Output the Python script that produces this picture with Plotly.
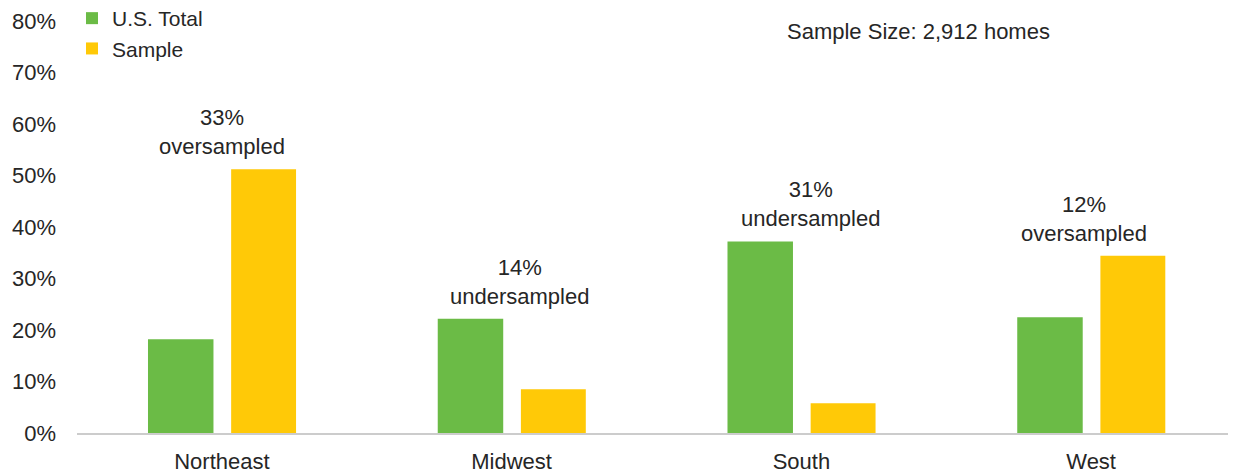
import plotly.graph_objects as go

regions = ["Northeast", "Midwest", "South", "West"]
us_total = [18.2, 22.2, 37.2, 22.5]
sample = [51.2, 8.5, 5.8, 34.4]
notes = ["33%<br>oversampled", "14%<br>undersampled", "31%<br>undersampled", "12%<br>oversampled"]
y_ticks = [0, 10, 20, 30, 40, 50, 60, 70, 80]
y_labels = [f"{v}%" for v in y_ticks]

GREEN = "#6BBB46"
YELLOW = "#FFC907"
TEXT = "#262626"
FONT = "Liberation Sans, Arial, sans-serif"
FS = 22

fig = go.Figure()
fig.add_trace(go.Bar(x=regions, y=us_total, name="U.S. Total", marker_color=GREEN,
                     marker_line_width=0, width=0.226, offset=-0.255))
fig.add_trace(go.Bar(x=regions, y=sample, name="Sample", marker_color=YELLOW,
                     marker_line_width=0, width=0.224, offset=0.032))

xshifts = [0, 8, 9, -7]
for r, a, b, t, xs in zip(regions, us_total, sample, notes, xshifts):
    fig.add_annotation(x=r, y=max(a, b), text=t, showarrow=False, yanchor="bottom",
                       yshift=8, xshift=xs, font=dict(size=FS, color=TEXT, family=FONT))

fig.add_annotation(xref="paper", yref="paper", x=(918 - 77) / (1236 - 77), y=1.0 - (32 - 21) / 412,
                   text="Sample Size: 2,912 homes", showarrow=False, xanchor="center", yanchor="middle",
                   font=dict(size=FS, color=TEXT, family=FONT))

fig.update_layout(
    width=1236, height=473,
    margin=dict(l=69, r=8, t=13, b=48, autoexpand=False),
    paper_bgcolor="white", plot_bgcolor="white",
    barmode="overlay",
    font=dict(family=FONT, size=FS, color=TEXT),
    legend=dict(x=-5 / 1159, y=1.0 + 23 / 412, xanchor="left", yanchor="top", bgcolor="rgba(0,0,0,0)",
                font=dict(size=21, color=TEXT, family=FONT), itemwidth=30, tracegroupgap=0,
                traceorder="normal"),
    showlegend=True,
)
fig.update_xaxes(showgrid=False, showline=True, linecolor="#cccccc", linewidth=1.5,
                 ticks="", ticklabelstandoff=8, tickfont=dict(size=FS, color=TEXT),
                 range=[-0.5, 3.5])
fig.update_yaxes(range=[0, 80], tickmode="array", tickvals=y_ticks, ticktext=y_labels,
                 showgrid=False, zeroline=False, showline=False, ticks="", ticklabelstandoff=20,
                 tickfont=dict(size=FS, color=TEXT))

fig.write_html("out.html")
